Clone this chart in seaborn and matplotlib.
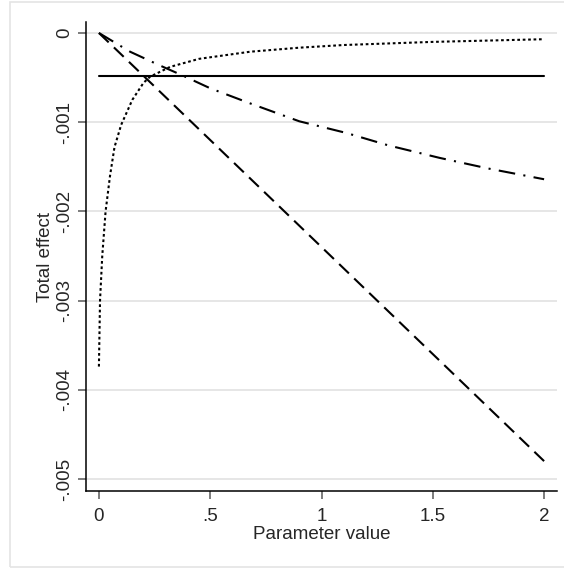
import numpy as np
import pandas as pd
import matplotlib
matplotlib.use("Agg")
import matplotlib.pyplot as plt
import matplotlib.patches as patches
import seaborn as sns

# ---- data ----
solid_x = [0.0, 2.0]
solid_y = [-0.00048, -0.00048]

dashed_x = [0.0, 0.5, 1.0, 1.5, 2.0]
dashed_y = [0.0, -0.0012, -0.0024, -0.0036, -0.0048]

dashdot_x = [0.0, 0.14, 0.27, 0.37, 0.5, 0.68, 0.9, 1.11, 1.3, 1.53, 1.75, 2.0]
dashdot_y = [0.0, -0.00021, -0.00036, -0.00047, -0.00062, -0.00079, -0.00099,
             -0.00112, -0.00126, -0.0014, -0.00152, -0.00164]

dotted_x = [0.0, 0.005, 0.015, 0.03, 0.05, 0.07, 0.1, 0.15, 0.2, 0.23, 0.32,
            0.45, 0.68, 0.9, 1.1, 1.5, 2.0]
dotted_y = [-0.00374, -0.0030, -0.0025, -0.0020, -0.0016, -0.00128, -0.00103,
            -0.00075, -0.00056, -0.00049, -0.00038, -0.00029, -0.00021,
            -0.000165, -0.000135, -0.0001, -0.00007]

x_ticks = [0, 0.5, 1, 1.5, 2]
x_labels = ["0", ".5", "1", "1.5", "2"]
y_ticks = [0, -0.001, -0.002, -0.003, -0.004, -0.005]
y_labels = ["0", "-.001", "-.002", "-.003", "-.004", "-.005"]

sns.set_theme(style="white")
plt.rcParams["font.family"] = ["Liberation Sans", "DejaVu Sans"]

fig = plt.figure(figsize=(5.64, 5.69), dpi=100)
ax = fig.add_axes([86 / 564, 1 - 491 / 569, (557 - 86) / 564, (491 - 22) / 569])

# outer frame like Stata graph region
fig.patches.append(patches.Rectangle((10 / 564, 2 / 569), 1.0, 565 / 569,
                                     transform=fig.transFigure, fill=False,
                                     edgecolor="#e4e4e4", linewidth=1.2))

for yv in y_ticks:
    ax.axhline(yv, color="#e6e6e6", linewidth=1.4, zorder=0)

lw = 1.5
sns.lineplot(x=solid_x, y=solid_y, ax=ax, color="black", linewidth=lw)
sns.lineplot(x=dashed_x, y=dashed_y, ax=ax, color="black", linewidth=lw,
             linestyle=(0, (6.5, 3.5)))
sns.lineplot(x=dashdot_x, y=dashdot_y, ax=ax, color="black", linewidth=lw,
             linestyle=(0, (8, 4, 1, 4)))
sns.lineplot(x=dotted_x, y=dotted_y, ax=ax, color="black", linewidth=lw,
             linestyle=(0, (1.3, 1.3)))

ax.set_xlim(-0.058, 2.058)
ax.set_ylim(-0.005135, 0.000123)
ax.set_xticks(x_ticks)
ax.set_xticklabels(x_labels, fontsize=13.5)
ax.set_yticks(y_ticks)
ax.set_yticklabels(y_labels, fontsize=13.5, rotation=90, va="center")
ax.tick_params(axis="x", pad=6)
ax.tick_params(axis="y", pad=3)
ax.tick_params(axis="both", direction="out", length=6, width=1.2,
               color="#666666", bottom=True, left=True)

for s in ["top", "right"]:
    ax.spines[s].set_visible(False)
for s in ["left", "bottom"]:
    ax.spines[s].set_color("black")
    ax.spines[s].set_linewidth(1.1)

ax.set_xlabel("Parameter value", fontsize=13.5, labelpad=1)
ax.set_ylabel("Total effect", fontsize=13.5, labelpad=2)

fig.savefig("out.png", dpi=100, facecolor="white")
